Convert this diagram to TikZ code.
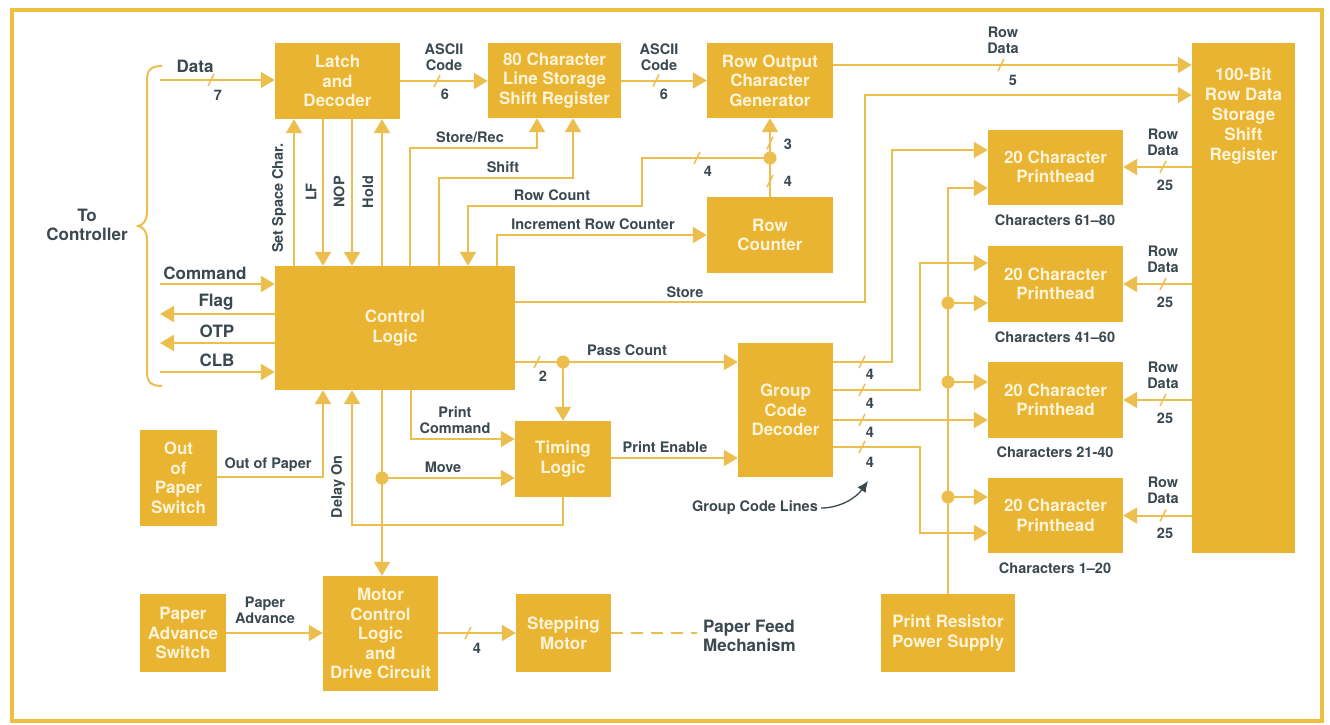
\documentclass[tikz,border=0pt]{standalone}
\usepackage{fontspec}
\setmainfont{TeX Gyre Heros}
\usetikzlibrary{arrows.meta}
\definecolor{boxc}{HTML}{E8B431}
\definecolor{linec}{HTML}{ECBE4E}
\definecolor{boxt}{HTML}{FFF3D8}
\definecolor{lblc}{HTML}{3A4850}
\definecolor{framec}{HTML}{EFC040}
\newcommand\bxfont{\fontsize{17}{19.5}\selectfont\bfseries}
\newcommand\lbfont{\fontsize{14.5}{16}\selectfont\bfseries}
\newcommand\lgfont{\fontsize{17}{19}\selectfont\bfseries}
\tikzset{
  blk/.style={fill=boxc, text=boxt, font=\bxfont, align=center, inner sep=0pt},
  ln/.style={draw=linec, line width=2pt},
  arr/.style={ln, -{Triangle[length=14pt,width=16pt]}},
  lbl/.style={text=lblc, font=\lbfont, inner sep=0pt, align=center},
  lbg/.style={text=lblc, font=\lgfont, inner sep=0pt, align=center},
  jdot/.style={circle, fill=linec, minimum size=13pt, inner sep=0pt},
  slashmark/.pic={\draw[linec, line width=1.4pt] (-3,6) -- (3,-6);}
}
\begin{document}
\begin{tikzpicture}[x=1pt,y=-1pt]
\useasboundingbox (0,0) rectangle (1330,725);
\fill[white] (0,0) rectangle (1330,725);
\draw[framec, line width=4.5pt] (12,10) rectangle (1322,721);

% ---------- blocks ----------
\node[blk, minimum width=125pt, minimum height=76pt] (latch) at (337.5,81) {Latch\\and\\Decoder};
\node[blk, minimum width=133pt, minimum height=75pt] (char80) at (554.5,80.5) {80 Character\\Line Storage\\Shift Register};
\node[blk, minimum width=126pt, minimum height=75pt] (rowout) at (770,80.5) {Row Output\\Character\\Generator};
\node[blk, minimum width=103pt, minimum height=510pt,
  label={[anchor=north, yshift=-25pt, text=boxt, font=\fontsize{17}{20}\selectfont\bfseries, align=center, inner sep=0pt]north:{100-Bit\\Row Data\\Storage\\Shift\\Register}}] (bit) at (1243.5,298) {};
\node[blk, minimum width=126pt, minimum height=76pt] (rowcnt) at (770,235) {Row\\Counter};
\node[blk, minimum width=240pt, minimum height=124pt] (ctrl) at (395,328) {Control\\Logic};
\node[blk, minimum width=96pt, minimum height=76pt] (timing) at (563,459) {Timing\\Logic};
\node[blk, minimum width=95pt, minimum height=134pt] (gcd) at (785.5,410) {Group\\Code\\Decoder};
\node[blk, minimum width=77pt, minimum height=96pt] (oop) at (178.5,478) {Out\\of\\Paper\\Switch};
\node[blk, minimum width=86pt, minimum height=78pt] (pas) at (183,633) {Paper\\Advance\\Switch};
\node[blk, minimum width=115pt, minimum height=115pt] (motor) at (380.5,633.5) {Motor\\Control\\Logic\\and\\Drive Circuit};
\node[blk, minimum width=95pt, minimum height=78pt] (step) at (563.5,633) {Stepping\\Motor};
\node[blk, minimum width=134pt, minimum height=78pt] (prps) at (948,633) {Print Resistor\\Power Supply};
\node[blk, minimum width=135pt, minimum height=75pt] (ph1) at (1055.5,167) {20 Character\\Printhead};
\node[blk, minimum width=135pt, minimum height=76pt] (ph2) at (1055.5,284) {20 Character\\Printhead};
\node[blk, minimum width=135pt, minimum height=76pt] (ph3) at (1055.5,400) {20 Character\\Printhead};
\node[blk, minimum width=135pt, minimum height=75pt] (ph4) at (1055.5,515.5) {20 Character\\Printhead};

\node[lbl] (cap1) at (1055,220) {Characters 61–80};
\node[lbl] (cap2) at (1055,337) {Characters 41–60};
\node[lbl] (cap3) at (1055,452) {Characters 21-40};
\node[lbl] (cap4) at (1055,568) {Characters 1–20};

% ---------- controller side ----------
\node[lbg] (toc) at (87,225) {To\\Controller};
\draw[ln] (162,66) .. controls (151,66) and (147,70) .. (147,80) -- (147,212)
  .. controls (147,221) and (143,225) .. (138,226)
  .. controls (143,227) and (147,231) .. (147,240) -- (147,372)
  .. controls (147,382) and (151,386) .. (162,386);

\coordinate (dataS) at (160,80);
\draw[arr] (dataS) -- (dataS -| latch.west);
\pic at (211,80) {slashmark};
\node[lbg] (ldata) at (195,66) {Data};
\node[lbl] (l7) at (218,95) {7};

\coordinate (cmd) at (160,284);
\draw[arr] (cmd) -- (cmd -| ctrl.west);
\node[lbg] (lcmd) at (205,273) {Command};
\coordinate (flg) at (160,314);
\draw[arr] (flg -| ctrl.west) -- (flg);
\node[lbg] (lflg) at (216,302) {Flag};
\coordinate (otp) at (160,343);
\draw[arr] (otp -| ctrl.west) -- (otp);
\node[lbg] (lotp) at (217,331) {OTP};
\coordinate (clb) at (160,372);
\draw[arr] (clb) -- (clb -| ctrl.west);
\node[lbg] (lclb) at (217,360) {CLB};

% ---------- top row ----------
\draw[arr] (latch.east) -- (latch.east -| char80.west);
\pic at (437,81) {slashmark};
\node[lbl] (la1) at (444,57) {ASCII\\Code};
\node[lbl] (l6a) at (445,94) {6};

\draw[arr] (char80.east) -- (char80.east -| rowout.west);
\pic at (656,80.5) {slashmark};
\node[lbl] (la2) at (659,57) {ASCII\\Code};
\node[lbl] (l6b) at (664,94) {6};

\coordinate (rd) at (900,65);
\draw[arr] (rowout.east |- rd) -- (rd -| bit.west);
\pic at (1001,65) {slashmark};
\node[lbl] (lrd) at (1003,40) {Row\\Data};
\node[lbl] (l5) at (1013,80) {5};

% ---------- latch <-> control ----------
\coordinate (vss) at (294,200);
\coordinate (vlf) at (323,200);
\coordinate (vnop) at (352,200);
\coordinate (vhold) at (382,200);
\draw[arr] (vss |- ctrl.north) -- (vss |- latch.south);
\draw[arr] (vlf |- latch.south) -- (vlf |- ctrl.north);
\draw[arr] (vnop |- latch.south) -- (vnop |- ctrl.north);
\draw[arr] (vhold |- ctrl.north) -- (vhold |- latch.south);
\node[lbl, rotate=90] (lss) at (279,198) {Set Space Char.};
\node[lbl, rotate=90] (llf) at (311,192) {LF};
\node[lbl, rotate=90] (lnop) at (339,192) {NOP};
\node[lbl, rotate=90] (lhold) at (368,192) {Hold};

% ---------- control -> top blocks ----------
\coordinate (sr1) at (410,148);
\coordinate (sr2) at (537,148);
\draw[arr] (sr1 |- ctrl.north) -- (sr1) -- (sr2) -- (sr2 |- char80.south);
\node[lbl] (lsr) at (470,137) {Store/Rec};

\coordinate (sh1) at (439,178);
\coordinate (sh2) at (573,178);
\draw[arr] (sh1 |- ctrl.north) -- (sh1) -- (sh2) -- (sh2 |- char80.south);
\node[lbl] (lsh) at (503,167) {Shift};

\coordinate (jrc) at (770,158);
\coordinate (rc1) at (642,158);
\coordinate (rc2) at (642,206);
\coordinate (rc3) at (468,206);
\draw[arr] (jrc) -- (rc1) -- (rc2) -- (rc3) -- (rc3 |- ctrl.north);
\node[lbl] (lrc) at (552,195) {Row Count};
\pic at (697,158) {slashmark};
\node[lbl] (l4rc) at (708,171) {4};

\coordinate (ir1) at (497,235);
\draw[arr] (ir1 |- ctrl.north) -- (ir1) -- (ir1 -| rowcnt.west);
\node[lbl] (lir) at (593,224) {Increment Row Counter};

\draw[arr] (rowcnt.north) -- (rowout.south);
\node[jdot] (djrc) at (jrc) {};
\pic at (770,143) {slashmark};
\pic at (770,181) {slashmark};
\node[lbl] (l3) at (788,144) {3};
\node[lbl] (l4r) at (788,181) {4};

% ---------- store ----------
\coordinate (st1) at (865,302);
\coordinate (st2) at (865,95);
\draw[arr] (ctrl.east |- st1) -- (st1) -- (st2) -- (st2 -| bit.west);
\node[lbl] (lst) at (685,292) {Store};

% ---------- pass count / timing ----------
\coordinate (pc) at (563,362);
\draw[arr] (ctrl.east |- pc) -- (pc -| gcd.west);
\draw[arr] (pc) -- (pc |- timing.north);
\node[jdot] (dpc) at (pc) {};
\pic at (537,362) {slashmark};
\node[lbl] (l2) at (543,376) {2};
\node[lbl] (lpc) at (627,350) {Pass Count};

\coordinate (pcm) at (411,439);
\draw[arr] (pcm |- ctrl.south) -- (pcm) -- (pcm -| timing.west);
\node[lbl] (lpcm) at (455,420) {Print\\Command};

\coordinate (mv) at (382,478);
\draw[arr] (mv |- ctrl.south) -- (mv |- motor.north);
\draw[arr] (mv) -- (mv -| timing.west);
\node[jdot] (dmv) at (mv) {};
\node[lbl] (lmv) at (443,467) {Move};

\coordinate (pe) at (680,458);
\draw[arr] (timing.east |- pe) -- (pe -| gcd.west);
\node[lbl] (lpe) at (665,447) {Print Enable};

\coordinate (d1) at (563,525);
\coordinate (d2) at (352,525);
\draw[arr] (d1 |- timing.south) -- (d1) -- (d2) -- (d2 |- ctrl.south);
\node[lbl, rotate=90] (ldo) at (338,487) {Delay On};

\coordinate (op) at (323,477);
\draw[arr] (oop.east |- op) -- (op) -- (op |- ctrl.south);
\node[lbl] (lop) at (268,465) {Out of Paper};

% ---------- motor ----------
\draw[arr] (pas.east) -- (pas.east -| motor.west);
\node[lbl] (lpa) at (265,610) {Paper\\Advance};
\draw[arr] (motor.east |- step.west) -- (step.west);
\pic at (468,633) {slashmark};
\node[lbl] (l4m) at (477,648) {4};
\coordinate (pf) at (697,633);
\draw[ln, dash pattern=on 12pt off 8pt] (step.east) -- (pf);
\node[lbg, anchor=west, align=left] (lpf) at (703,636) {Paper Feed\\Mechanism};

% ---------- group code lines ----------
\coordinate (g1a) at (892,362);
\coordinate (g1b) at (892,150);
\draw[arr] (gcd.east |- g1a) -- (g1a) -- (g1b) -- (g1b -| ph1.west);
\coordinate (g2a) at (920,390);
\coordinate (g2b) at (920,263);
\draw[arr] (gcd.east |- g2a) -- (g2a) -- (g2b) -- (g2b -| ph2.west);
\coordinate (g3) at (900,420);
\draw[arr] (gcd.east |- g3) -- (g3 -| ph3.west);
\coordinate (g4a) at (920,447);
\coordinate (g4b) at (920,533);
\draw[arr] (gcd.east |- g4a) -- (g4a) -- (g4b) -- (g4b -| ph4.west);
\pic at (862,362) {slashmark};
\pic at (862,390) {slashmark};
\pic at (862,420) {slashmark};
\pic at (862,447) {slashmark};
\node[lbl] (lg1) at (870,374) {4};
\node[lbl] (lg2) at (870,403) {4};
\node[lbl] (lg3) at (870,432) {4};
\node[lbl] (lg4) at (870,462) {4};

\node[lbl] (gcl) at (755,508) {Group Code Lines};
\coordinate (gca) at (868,481);
\draw[lblc, line width=1.3pt, -{Latex[length=11pt,width=10pt]}] ([xshift=3pt]gcl.east) .. controls (840,508) and (856,498) .. (gca);

% ---------- power bus ----------
\coordinate (pw1) at (948,188);
\coordinate (pw2) at (948,303);
\coordinate (pw3) at (948,382);
\coordinate (pw4) at (948,497);
\draw[arr] (prps.north) -- (pw1) -- (pw1 -| ph1.west);
\draw[arr] (pw2) -- (pw2 -| ph2.west);
\draw[arr] (pw3) -- (pw3 -| ph3.west);
\draw[arr] (pw4) -- (pw4 -| ph4.west);
\node[jdot] (dpw2) at (pw2) {};
\node[jdot] (dpw3) at (pw3) {};
\node[jdot] (dpw4) at (pw4) {};

% ---------- row data to printheads ----------
\foreach \p/\yy in {ph1/167, ph2/284, ph3/400, ph4/515.5}{
  \draw[arr] (bit.west |- \p.east) -- (\p.east);
  \pic at (1163,\yy) {slashmark};
  \node[lbl] at (1163,\yy-25) {Row\\Data};
  \node[lbl] at (1165,\yy+18) {25};
}
\end{tikzpicture}
\end{document}
